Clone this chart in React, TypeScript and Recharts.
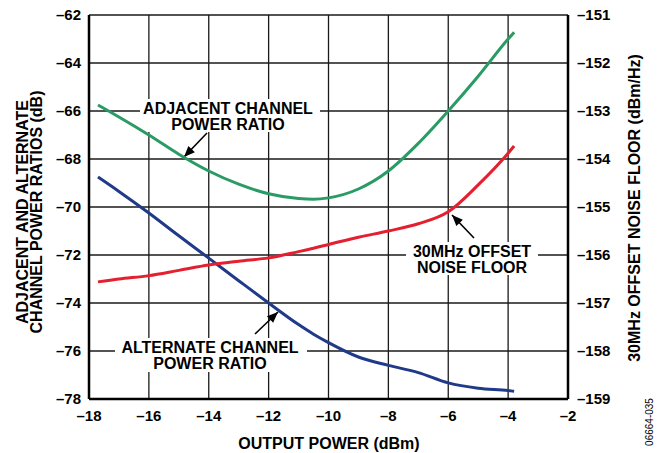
import { ComposedChart, Line, XAxis, YAxis, CartesianGrid, Customized } from "recharts";

// output power (dBm)
const powerDbm = [-17.7, -17, -16, -15, -14, -13, -12, -11, -10.5, -10, -9, -8, -7, -6, -5, -4, -3.8];
// adjacent channel power ratio (dB), left axis
const adjacentRatio = [-65.75, -66.25, -67.0, -67.8, -68.5, -69.05, -69.45, -69.65, -69.68, -69.62, -69.25, -68.5, -67.35, -66.0, -64.55, -63.0, -62.72];
// alternate channel power ratio (dB), left axis
const alternateRatio = [-68.75, -69.35, -70.25, -71.2, -72.13, -73.07, -74.0, -74.9, -75.3, -75.65, -76.25, -76.6, -76.9, -77.33, -77.55, -77.65, -77.68];
// 30MHz offset noise floor (dBm/Hz), right axis
const noiseFloor = [-156.56, -156.5, -156.43, -156.32, -156.21, -156.13, -156.06, -155.93, -155.86, -155.78, -155.63, -155.5, -155.35, -155.1, -154.54, -153.88, -153.73];

const xTicks = [-18, -16, -14, -12, -10, -8, -6, -4, -2];
const leftTicks = [-78, -76, -74, -72, -70, -68, -66, -64, -62];
const rightTicks = [-159, -158, -157, -156, -155, -154, -153, -152, -151];

const data = powerDbm.map((x, i) => ({
  x,
  adjacent: adjacentRatio[i],
  alternate: alternateRatio[i],
  noise: noiseFloor[i],
}));

const FONT = "'Liberation Sans', Arial, Helvetica, sans-serif";
const tickStyle = { fontSize: 15, fontWeight: 700, fill: "#000", fontFamily: FONT };
const minus = (v: number) => String(v).replace("-", "\u2013");

function arrowHead(x1: number, y1: number, x2: number, y2: number) {
  const a = Math.atan2(y2 - y1, x2 - x1);
  const len = 11;
  const w = 4.5;
  const bx = x2 - len * Math.cos(a);
  const by = y2 - len * Math.sin(a);
  const px = -Math.sin(a) * w;
  const py = Math.cos(a) * w;
  return `${x2},${y2} ${bx + px},${by + py} ${bx - px},${by - py}`;
}

function Arrow({ x1, y1, x2, y2 }: { x1: number; y1: number; x2: number; y2: number }) {
  return (
    <g>
      <line x1={x1} y1={y1} x2={x2} y2={y2} stroke="#000" strokeWidth={1.6} />
      <polygon points={arrowHead(x1, y1, x2, y2)} fill="#000" />
    </g>
  );
}

function TwoLines({ x, y, a, b }: { x: number; y: number; a: string; b: string }) {
  return (
    <text x={x} y={y} textAnchor="middle" fontSize={16}>
      <tspan x={x} dy={0}>{a}</tspan>
      <tspan x={x} dy={15.5}>{b}</tspan>
    </text>
  );
}

function Notes() {
  return (
    <g fontFamily={FONT} fontWeight={700} fill="#000">
      {/* adjacent channel label */}
      <rect x={140} y={99} width={180} height={33} fill="#fff" />
      <TwoLines x={228} y={114} a="ADJACENT CHANNEL" b="POWER RATIO" />
      <Arrow x1={207} y1={133} x2={184} y2={157} />

      {/* alternate channel label */}
      <rect x={115} y={338} width={192} height={34} fill="#fff" />
      <TwoLines x={210} y={353} a="ALTERNATE CHANNEL" b="POWER RATIO" />
      <Arrow x1={255} y1={334} x2={278} y2={312} />

      {/* noise floor label */}
      <rect x={406} y={242} width={132} height={33} fill="#fff" />
      <TwoLines x={472} y={257} a="30MHz OFFSET" b="NOISE FLOOR" />
      <Arrow x1={474} y1={238} x2={452} y2={215} />

      {/* axis titles */}
      <text x={329} y={443} textAnchor="middle" dominantBaseline="central" fontSize={16}>OUTPUT POWER (dBm)</text>
      <text transform="translate(28,212) rotate(-90)" textAnchor="middle" fontSize={16}>
        <tspan x={0} dy={0}>ADJACENT AND ALTERNATE</tspan>
        <tspan x={0} dy={14}>CHANNEL POWER RATIOS (dB)</tspan>
      </text>
      <text transform="translate(640,208) rotate(-90)" textAnchor="middle" fontSize={16}>30MHz OFFSET NOISE FLOOR (dBm/Hz)</text>
      <text transform="translate(653,422) rotate(-90)" textAnchor="middle" fontSize={10} fontWeight={400}>06664-035</text>
    </g>
  );
}

export default function App() {
  return (
    <div style={{ position: "absolute", left: 0, top: 0, width: 658, height: 453, background: "#fff" }}>
      <ComposedChart width={658} height={453} data={data} margin={{ top: 15, right: 30, bottom: 24, left: 29 }}>
        <CartesianGrid yAxisId="left" stroke="#1a1a1a" strokeWidth={1.3} />
        <XAxis
          dataKey="x"
          type="number"
          domain={[-18, -2]}
          ticks={xTicks}
          tickFormatter={minus}
          tick={tickStyle}
          tickLine={false}
          tickSize={6}
          tickMargin={5}
          axisLine={{ stroke: "#000", strokeWidth: 2.5 }}
          height={30}
        />
        <XAxis
          xAxisId="top"
          dataKey="x"
          type="number"
          orientation="top"
          domain={[-18, -2]}
          ticks={xTicks}
          tick={false}
          tickLine={false}
          axisLine={{ stroke: "#000", strokeWidth: 2.5 }}
          height={0}
        />
        <YAxis
          yAxisId="left"
          domain={[-78, -62]}
          ticks={leftTicks}
          tickFormatter={minus}
          tick={tickStyle}
          tickLine={false}
          tickSize={6}
          tickMargin={2}
          axisLine={{ stroke: "#000", strokeWidth: 2.5 }}
          width={60}
        />
        <YAxis
          yAxisId="right"
          orientation="right"
          domain={[-159, -151]}
          ticks={rightTicks}
          tickFormatter={minus}
          tick={{ ...tickStyle, textAnchor: "start" }}
          tickLine={false}
          tickSize={6}
          tickMargin={3}
          axisLine={{ stroke: "#000", strokeWidth: 2.5 }}
          width={60}
        />
        <Line yAxisId="left" type="monotone" dataKey="adjacent" stroke="#2a9b64" strokeWidth={3} dot={false} isAnimationActive={false} />
        <Line yAxisId="left" type="monotone" dataKey="alternate" stroke="#1f3a88" strokeWidth={3} dot={false} isAnimationActive={false} />
        <Line yAxisId="right" type="monotone" dataKey="noise" stroke="#e41f2f" strokeWidth={3} dot={false} isAnimationActive={false} />
        <Customized component={Notes} />
      </ComposedChart>
    </div>
  );
}
